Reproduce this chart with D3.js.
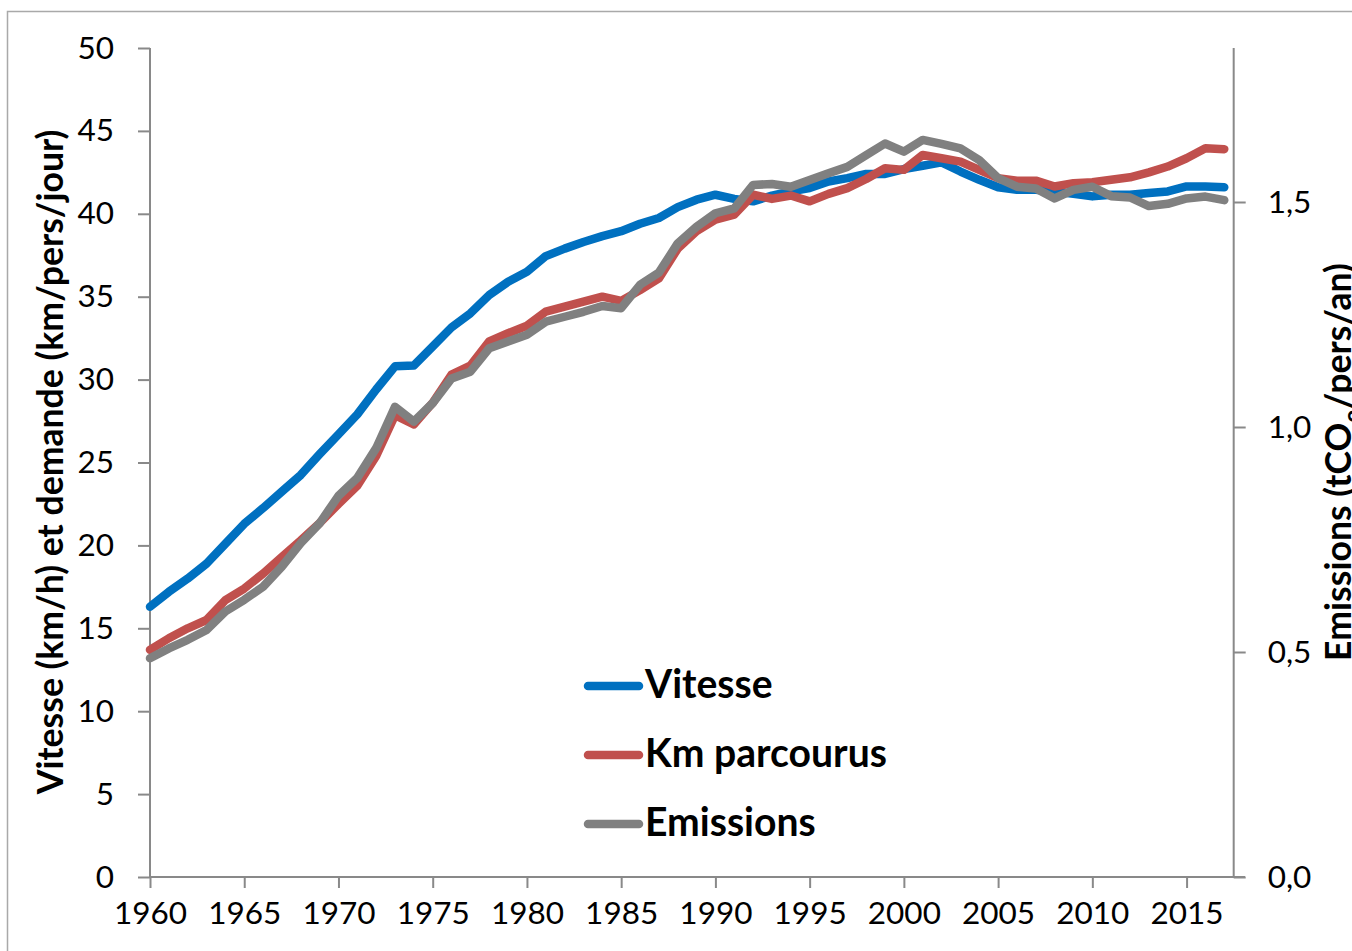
<!DOCTYPE html>
<html><head><meta charset="utf-8">
<script src="https://cdn.jsdelivr.net/npm/d3@7"></script>
<style>
body{margin:0;background:#fff;overflow:hidden}
svg{display:block}
</style></head>
<body>
<svg id="chart" width="1352" height="951"></svg>
<script>
const years = [1960,1961,1962,1963,1964,1965,1966,1967,1968,1969,1970,1971,1972,1973,1974,1975,1976,1977,1978,1979,1980,1981,1982,1983,1984,1985,1986,1987,1988,1989,1990,1991,1992,1993,1994,1995,1996,1997,1998,1999,2000,2001,2002,2003,2004,2005,2006,2007,2008,2009,2010,2011,2012,2013,2014,2015,2016,2017];
const vitesse = [16.3,17.2,18.0,18.9,20.1,21.3,22.25,23.25,24.25,25.5,26.7,27.9,29.4,30.8,30.85,32.0,33.15,34.0,35.1,35.9,36.5,37.45,37.9,38.3,38.65,38.95,39.4,39.75,40.4,40.85,41.15,40.9,40.75,41.1,41.35,41.55,41.95,42.15,42.4,42.4,42.7,42.9,43.1,42.55,42.05,41.6,41.45,41.45,41.35,41.2,41.05,41.15,41.15,41.25,41.35,41.65,41.65,41.6];
const kmParcourus = [13.7,14.4,15.0,15.5,16.7,17.4,18.3,19.3,20.3,21.35,22.5,23.6,25.4,27.85,27.3,28.6,30.3,30.85,32.3,32.8,33.25,34.1,34.4,34.7,35.0,34.75,35.4,36.1,37.9,38.95,39.65,39.95,41.15,40.9,41.1,40.75,41.2,41.55,42.1,42.75,42.65,43.55,43.35,43.15,42.65,42.15,42.0,42.0,41.65,41.85,41.9,42.05,42.2,42.5,42.85,43.35,43.95,43.9];
const emissions = [0.486,0.508,0.527,0.549,0.590,0.616,0.645,0.690,0.742,0.786,0.847,0.887,0.953,1.045,1.012,1.053,1.108,1.123,1.175,1.190,1.205,1.234,1.245,1.256,1.269,1.264,1.316,1.343,1.408,1.445,1.475,1.486,1.538,1.540,1.534,1.549,1.564,1.578,1.604,1.630,1.612,1.638,1.629,1.619,1.593,1.553,1.534,1.530,1.508,1.527,1.534,1.513,1.510,1.491,1.496,1.508,1.512,1.504];
const xTicks = [1960,1965,1970,1975,1980,1985,1990,1995,2000,2005,2010,2015];
const leftTicks = [0,5,10,15,20,25,30,35,40,45,50];
const rightTicks = [0,0.5,1.0,1.5];
const seriesNames = ["Vitesse","Km parcourus","Emissions"];
const seriesColors = ["#0070C0","#C0504D","#808080"];
const leftTitle = "Vitesse (km/h) et demande (km/pers/jour)";

const svg = d3.select("#chart");
const FONT = "Lato, 'Open Sans', sans-serif";
const AX = "#898989";

// frame
svg.append("rect").attr("x",7.5).attr("y",11.5).attr("width",1400).attr("height",1000)
  .attr("fill","none").attr("stroke","#a9a9a9").attr("stroke-width",1.5);

const x = d3.scaleLinear().domain([1960,2018.1]).range([150,1245]);
const yL = d3.scaleLinear().domain([0,50]).range([877,48]);
const yR = d3.scaleLinear().domain([0,829/450]).range([877,48]);
const loc = d3.formatLocale({decimal:",",thousands:" ",grouping:[3],currency:["","€"]});
const fmtR = loc.format(".1f");

// left axis
const gL = svg.append("g").attr("transform","translate(150,0)")
  .call(d3.axisLeft(yL).tickValues(leftTicks).tickSize(12).tickPadding(24).tickFormat(d3.format("d")));
// x axis
const gX = svg.append("g").attr("transform","translate(0,877)")
  .call(d3.axisBottom(x).tickValues(xTicks).tickSize(11).tickPadding(14).tickFormat(d3.format("d")));
// right axis
const xr = x(2017.5);
const gR = svg.append("g").attr("transform",`translate(${xr},0)`)
  .call(d3.axisRight(yR).tickValues(rightTicks).tickSize(12).tickPadding(22).tickFormat(fmtR));

[gL,gX,gR].forEach(g=>{
  g.select(".domain").attr("stroke",AX).attr("stroke-width",2);
  g.selectAll(".tick line").attr("stroke",AX).attr("stroke-width",2);
  g.selectAll(".tick text").attr("fill","#000").style("font-family",FONT).style("font-size","31.5px");
});
gL.select(".domain").attr("d","M0,877V48");
gR.select(".domain").attr("d","M0,877V48");
gX.select(".domain").attr("d",`M150,0H1245`);
gX.selectAll(".tick text").attr("dy","0.71em");

// lines
const lineL = d3.line().x((d,i)=>x(years[i])).y(d=>yL(d));
const lineR = d3.line().x((d,i)=>x(years[i])).y(d=>yR(d));
const data = [[vitesse,lineL],[kmParcourus,lineL],[emissions,lineR]];
data.forEach(([vals,gen],k)=>{
  svg.append("path").attr("d",gen(vals)).attr("fill","none")
    .attr("stroke",seriesColors[k]).attr("stroke-width",8.5)
    .attr("stroke-linejoin","round").attr("stroke-linecap","round");
});

// titles
function fitText(sel,target){
  const len = sel.node().getComputedTextLength();
  const fs = parseFloat(sel.style("font-size"));
  sel.style("font-size",(fs*target/len)+"px");
}
const tL = svg.append("text").attr("transform","translate(63,462) rotate(-90)")
  .attr("text-anchor","middle").style("font-family",FONT).style("font-weight","bold")
  .style("font-size","33px").text(leftTitle);
fitText(tL,665);
const tR = svg.append("text").attr("transform","translate(1351,462) rotate(-90)")
  .attr("text-anchor","middle").style("font-family",FONT).style("font-weight","bold")
  .style("font-size",tL.style("font-size"));
tR.append("tspan").text("Emissions (tCO");
tR.append("tspan").attr("baseline-shift","sub").style("font-size","0.65em").text("2");
tR.append("tspan").text("/pers/an)");

// legend
const legY = [686,755,824];
let legText = [];
seriesNames.forEach((name,k)=>{
  const g = svg.append("g");
  g.append("line").attr("x1",588).attr("x2",639).attr("y1",legY[k]).attr("y2",legY[k])
    .attr("stroke",seriesColors[k]).attr("stroke-width",8.5).attr("stroke-linecap","round");
  legText.push(g.append("text").attr("x",645).attr("y",legY[k]+12).style("font-family",FONT)
    .style("font-weight","bold").style("font-size","34px").attr("fill","#000").text(name));
});
fitText(legText[1],242);
legText[0].style("font-size",legText[1].style("font-size"));
legText[2].style("font-size",legText[1].style("font-size"));
</script>
</body></html>
